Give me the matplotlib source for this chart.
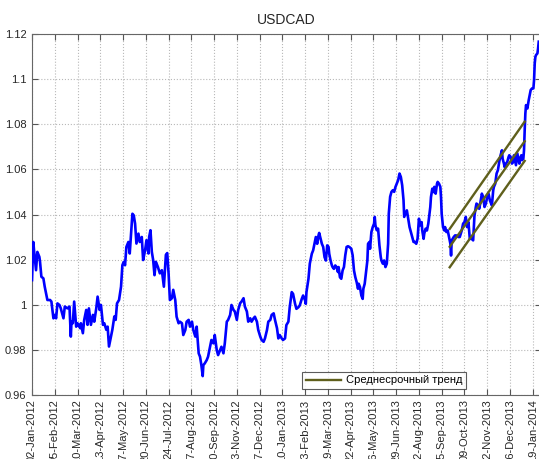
import datetime as dt
import matplotlib
matplotlib.use("Agg")
import matplotlib.pyplot as plt
import matplotlib.dates as mdates
from matplotlib.ticker import FixedLocator, FuncFormatter

plt.rcParams['font.family'] = ['Liberation Sans', 'DejaVu Sans']

start_date = dt.date(2012, 1, 2)

# day offsets from 02-Jan-2012 and USDCAD values
days = [0, 2, 3, 4, 6, 8, 11, 12, 14, 17, 19, 23, 27, 29, 32, 34, 36, 38, 41, 43,
        47, 49, 53, 56, 58, 59, 61, 63, 66, 68, 72, 73, 76, 78, 81, 83, 85, 88, 91, 93,
        96, 98, 101, 103, 106, 108, 111, 113, 115, 118, 120, 123, 125, 127, 130, 133, 135, 137, 139, 141,
        144, 146, 148, 150, 152, 154, 156, 159, 161, 164, 166, 169, 171, 174, 175, 177, 179, 181, 183, 185,
        188, 191, 194, 197, 200, 202, 204, 206, 209, 211, 214, 216, 219, 221, 224, 226, 229, 231, 234, 236,
        239, 241, 244, 246, 249, 251, 253, 255, 256, 258, 261, 263, 266, 268, 271, 273, 276, 278, 281, 283,
        286, 288, 291, 293, 296, 298, 301, 303, 306, 308, 311, 313, 316, 318, 321, 323, 326, 328, 331, 333,
        336, 338, 341, 343, 346, 348, 351, 353, 356, 358, 361, 363, 366, 368, 370, 373, 375, 378, 380, 383,
        385, 388, 390, 393, 395, 398, 400, 403, 405, 408, 409, 410, 413, 415, 418, 420, 422, 424, 426, 428,
        429, 431, 433, 435, 437, 439, 441, 443, 444, 446, 448, 449, 451, 453, 455, 457, 458, 460, 462, 464,
        466, 468, 470, 472, 474, 477, 479, 481, 483, 485, 487, 488, 490, 492, 494, 495, 497, 499, 501, 502,
        504, 505, 507, 509, 511, 512, 513, 515, 517, 519, 521, 522, 524, 526, 528, 530, 532, 533, 535, 537,
        539, 541, 543, 545, 547, 549, 551, 553, 555, 556, 558, 560, 562, 564, 566, 568, 570, 572, 574, 576,
        578, 580, 582, 583, 585, 586, 588, 590, 592, 595, 596, 598, 600, 601, 603, 605, 606, 608, 610, 611,
        612, 614, 616, 617, 619, 621, 622, 624, 625, 626, 627, 630, 632, 634, 637, 639, 642, 644, 646, 648,
        650, 652, 654, 657, 659, 661, 663, 664, 667, 668, 670, 672, 674, 676, 678, 680, 682, 684, 687, 689,
        690, 692, 694, 696, 698, 700, 702, 703, 705, 706, 708, 710, 712, 713, 715, 717, 719, 720, 722, 723,
        725, 726, 728, 729, 731, 732, 734, 735, 736, 737, 738, 740, 742, 744, 745, 747, 749, 750, 751, 752,
        753, 755, 756, 757]

usdcad = [1.0110, 1.0279, 1.0243, 1.0213, 1.0154, 1.0235, 1.0213, 1.0191, 1.0125, 1.0118,
          1.0081, 1.0022, 1.0022, 1.0015, 0.9941, 0.9956, 0.9941, 1.0007, 1.0000, 0.9985,
          0.9941, 0.9993, 0.9985, 0.9993, 0.9860, 0.9926, 0.9919, 1.0015, 0.9904, 0.9919,
          0.9897, 0.9919, 0.9875, 0.9934, 0.9978, 0.9912, 0.9985, 0.9912, 0.9956, 0.9926,
          0.9985, 1.0037, 0.9978, 1.0000, 0.9912, 0.9919, 0.9890, 0.9904, 0.9816, 0.9860,
          0.9890, 0.9949, 0.9934, 1.0007, 1.0022, 1.0081, 1.0176, 1.0191, 1.0176, 1.0257,
          1.0279, 1.0228, 1.0316, 1.0404, 1.0397, 1.0360, 1.0272, 1.0316, 1.0279, 1.0301,
          1.0199, 1.0243, 1.0287, 1.0228, 1.0301, 1.0331, 1.0235, 1.0199, 1.0132, 1.0191,
          1.0169, 1.0140, 1.0154, 1.0081, 1.0222, 1.0230, 1.0141, 1.0022, 1.0030, 1.0067,
          1.0022, 0.9948, 0.9919, 0.9926, 0.9919, 0.9867, 0.9889, 0.9926, 0.9934, 0.9904,
          0.9926, 0.9889, 0.9860, 0.9904, 0.9786, 0.9771, 0.9734, 0.9685, 0.9734, 0.9741,
          0.9756, 0.9771, 0.9815, 0.9845, 0.9830, 0.9867, 0.9800, 0.9778, 0.9800, 0.9815,
          0.9786, 0.9830, 0.9926, 0.9934, 0.9956, 1.0000, 0.9978, 0.9971, 0.9934, 0.9978,
          1.0008, 1.0015, 1.0030, 0.9993, 0.9971, 0.9926, 0.9941, 0.9926, 0.9941, 0.9948,
          0.9926, 0.9889, 0.9860, 0.9845, 0.9837, 0.9852, 0.9889, 0.9926, 0.9934, 0.9956,
          0.9963, 0.9934, 0.9897, 0.9852, 0.9867, 0.9852, 0.9845, 0.9852, 0.9911, 0.9926,
          0.9990, 1.0057, 1.0049, 1.0005, 0.9983, 0.9990, 0.9998, 1.0027, 1.0042, 1.0020,
          1.0005, 1.0057, 1.0116, 1.0183, 1.0227, 1.0242, 1.0271, 1.0301, 1.0271, 1.0308,
          1.0319, 1.0294, 1.0271, 1.0257, 1.0212, 1.0197, 1.0264, 1.0257, 1.0227, 1.0197,
          1.0175, 1.0168, 1.0160, 1.0175, 1.0168, 1.0146, 1.0168, 1.0123, 1.0116, 1.0153,
          1.0168, 1.0220, 1.0257, 1.0260, 1.0257, 1.0249, 1.0220, 1.0153, 1.0123, 1.0101,
          1.0072, 1.0094, 1.0079, 1.0042, 1.0027, 1.0072, 1.0094, 1.0146, 1.0197, 1.0271,
          1.0279, 1.0249, 1.0323, 1.0345, 1.0360, 1.0390, 1.0353, 1.0331, 1.0338, 1.0264,
          1.0212, 1.0197, 1.0183, 1.0197, 1.0168, 1.0183, 1.0271, 1.0405, 1.0479, 1.0501,
          1.0508, 1.0501, 1.0523, 1.0538, 1.0553, 1.0582, 1.0567, 1.0530, 1.0464, 1.0390,
          1.0405, 1.0419, 1.0382, 1.0345, 1.0323, 1.0301, 1.0279, 1.0279, 1.0271, 1.0294,
          1.0382, 1.0353, 1.0367, 1.0330, 1.0293, 1.0316, 1.0338, 1.0330, 1.0360, 1.0434,
          1.0478, 1.0515, 1.0500, 1.0523, 1.0493, 1.0537, 1.0545, 1.0537, 1.0523, 1.0478,
          1.0404, 1.0345, 1.0330, 1.0345, 1.0323, 1.0330, 1.0316, 1.0286, 1.0271, 1.0219,
          1.0286, 1.0301, 1.0308, 1.0308, 1.0301, 1.0301, 1.0330, 1.0360, 1.0367, 1.0390,
          1.0345, 1.0367, 1.0293, 1.0293, 1.0286, 1.0397, 1.0434, 1.0449, 1.0441, 1.0426,
          1.0456, 1.0493, 1.0478, 1.0434, 1.0449, 1.0478, 1.0493, 1.0463, 1.0441, 1.0508,
          1.0523, 1.0537, 1.0582, 1.0597, 1.0634, 1.0663, 1.0685, 1.0648, 1.0626, 1.0611,
          1.0626, 1.0634, 1.0656, 1.0663, 1.0656, 1.0626, 1.0634, 1.0663, 1.0634, 1.0619,
          1.0671, 1.0656, 1.0626, 1.0648, 1.0663, 1.0641, 1.0648, 1.0685, 1.0774, 1.0848,
          1.0885, 1.0870, 1.0907, 1.0937, 1.0952, 1.0959, 1.0959, 1.0996, 1.1070, 1.1099,
          1.1107, 1.1114, 1.1136, 1.1166]

# medium-term trend channel
trend_days = [624, 736]
trend_upper = [1.0337, 1.0812]
trend_mid = [1.0258, 1.0725]
trend_lower = [1.0167, 1.0638]

tick_days = list(range(0, 749, 34))
y_ticks = [0.96, 0.98, 1.00, 1.02, 1.04, 1.06, 1.08, 1.10, 1.12]

title = "USDCAD"
legend_label = "Среднесрочный тренд"

base = mdates.date2num(start_date)
x = [base + d for d in days]
tx = [base + d for d in trend_days]

W, H = 539, 459
fig = plt.figure(figsize=(W / 100, H / 100), dpi=100)
left_px, right_px, top_px, bottom_px = 32, 541, 34, 395.3
ax = fig.add_axes([left_px / W, (H - bottom_px) / H,
                   (right_px - left_px) / W, (bottom_px - top_px) / H])

ax.plot(x, usdcad, color='#0000ff', lw=1.9, zorder=3)
ax.plot(tx, trend_upper, color='#5f5f1c', lw=1.7, zorder=4, label=legend_label)
ax.plot(tx, trend_mid, color='#5f5f1c', lw=1.7, zorder=4)
ax.plot(tx, trend_lower, color='#5f5f1c', lw=1.7, zorder=4)

px_per_day = 22.76 / 34
ax.set_xlim(base, base + (right_px - left_px) / px_per_day)
ax.set_ylim(0.96, 1.12)

ax.xaxis.set_major_locator(FixedLocator([base + d for d in tick_days]))
ax.xaxis.set_major_formatter(mdates.DateFormatter('%d-%b-%Y'))
ax.yaxis.set_major_locator(FixedLocator(y_ticks))
ax.yaxis.set_major_formatter(FuncFormatter(lambda v, p: '%g' % round(v, 2)))

for lab in ax.get_xticklabels():
    lab.set_rotation(90)

ax.tick_params(axis='both', direction='in', length=4, width=0.8, color='#555555',
               labelsize=8, labelcolor='#262626', top=True, right=True, pad=4)
ax.tick_params(axis='x', pad=3)
for s in ax.spines.values():
    s.set_color('#666666')
    s.set_linewidth(0.8)

ax.grid(True, linestyle=':', color='#b8b8b8', linewidth=0.8)
ax.set_axisbelow(True)

ax.set_title(title, fontsize=10, color='#262626', pad=7)

leg = ax.legend(loc='lower left', bbox_to_anchor=((302 - left_px) / (right_px - left_px),
                                                  (bottom_px - 389.3) / (bottom_px - top_px)),
                borderaxespad=0, fontsize=8, frameon=True, fancybox=False,
                handlelength=3.2, handletextpad=0.4, borderpad=0.35)
leg.get_frame().set_edgecolor('#333333')
leg.get_frame().set_linewidth(0.8)

fig.savefig('out.png', dpi=100)
